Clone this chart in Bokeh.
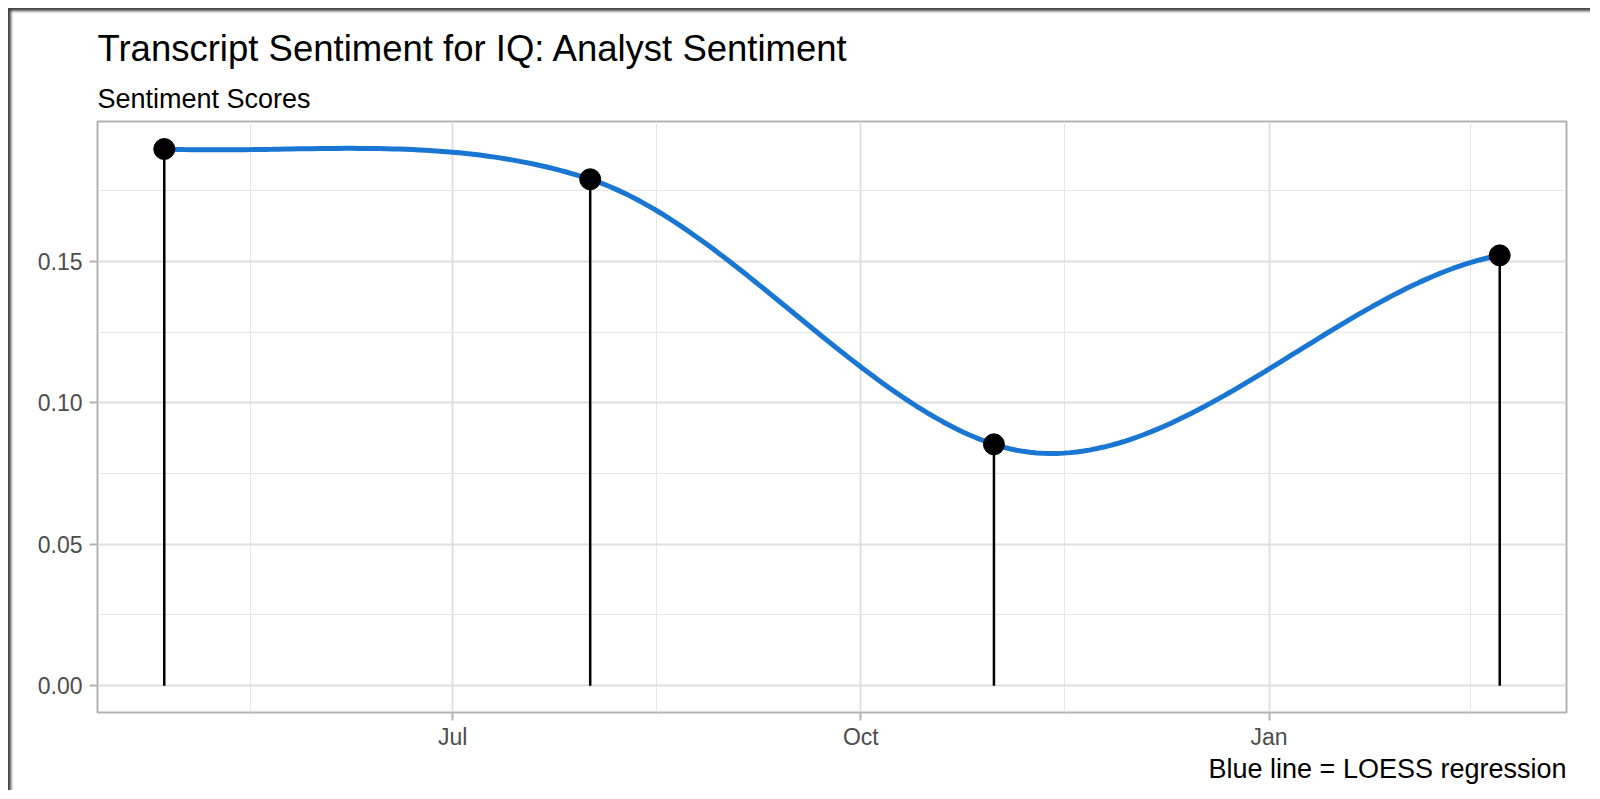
import numpy as np
from bokeh.plotting import figure
from bokeh.models import (ColumnDataSource, FixedTicker, DatetimeTickFormatter,
                          PrintfTickFormatter, Range1d, Title)
from bokeh.embed import file_html
from bokeh.resources import INLINE

# ---------------- data ----------------
dates = ["2023-04-27", "2023-08-01", "2023-10-31", "2024-02-22"]
scores = [0.1897, 0.1790, 0.0853, 0.1521]
x_tick_dates = ["2023-07-01", "2023-10-01", "2024-01-01"]
x_tick_labels = ["Jul", "Oct", "Jan"]
quarter_bounds = ["2023-04-01", "2023-07-01", "2023-10-01", "2024-01-01", "2024-04-01"]
y_ticks = [0.0, 0.05, 0.10, 0.15]
y_minor = [0.025, 0.075, 0.125, 0.175]
title_text = "Transcript Sentiment for IQ: Analyst Sentiment"
subtitle_text = "Sentiment Scores"
caption_text = "Blue line = LOESS regression"

# ---------------- LOESS (local quadratic, tricube, span 0.75) ----------------
DAY = 86400000.0
xt = np.array(dates, dtype="datetime64[ms]").astype(np.int64).astype(float)
yv = np.array(scores, float)
xd = (xt - xt[0]) / DAY
n = len(xd)
span = 0.75


def local_fit(x0):
    d = np.abs(xd - x0)
    order = np.argsort(d, kind="stable")
    q = int(np.floor(span * n))
    idx = order[:q]
    rho = d[order[q - 1]]
    w = np.clip(1 - (d[idx] / rho) ** 3, 0, None) ** 3
    s = np.sqrt(w)
    dx = xd[idx] - x0
    X = np.column_stack([np.ones(q), dx, dx ** 2]) * s[:, None]
    norms = np.linalg.norm(X, axis=0)
    norms[norms == 0] = 1
    beta = np.linalg.pinv(X / norms) @ (s * yv[idx]) / norms
    return beta[0], beta[1]


vals, slopes = zip(*[local_fit(v) for v in xd])
grid = np.linspace(xd[0], xd[-1], 200)
fit = []
for g in grid:
    i = min(np.searchsorted(xd, g, side="right") - 1, n - 2)
    L = xd[i + 1] - xd[i]
    t = (g - xd[i]) / L
    h00 = (1 + 2 * t) * (1 - t) ** 2
    h10 = t * (1 - t) ** 2
    h01 = t * t * (3 - 2 * t)
    h11 = t * t * (t - 1)
    fit.append(h00 * vals[i] + h01 * vals[i + 1] + L * (h10 * slopes[i] + h11 * slopes[i + 1]))
fit = np.array(fit)
grid_ms = xt[0] + grid * DAY

# ---------------- figure ----------------
xr = xt[-1] - xt[0]
ymax = max(yv.max(), fit.max())
p = figure(width=1582, height=782, x_axis_type="datetime",
           x_range=Range1d(xt[0] - 0.05 * xr, xt[-1] + 0.05 * xr),
           y_range=Range1d(-0.05 * ymax, 1.05 * ymax),
           output_backend="svg", toolbar_location=None,
           min_border_left=89, min_border_right=24, min_border_top=113, min_border_bottom=78)
p.margin = (8, 0, 0, 8)
p.styles = {"box-shadow": "inset 4px 4px 3px -1px rgba(45,45,45,0.9)"}
p.border_fill_color = None
p.background_fill_color = "white"
p.outline_line_color = "#B3B3B3"
p.outline_line_width = 2

src = ColumnDataSource(dict(x=xt, y=yv, y0=np.zeros(n)))
p.segment(x0="x", y0="y0", x1="x", y1="y", source=src, line_color="black", line_width=2.5)
p.line(grid_ms, fit, line_color="#1976D2", line_width=5)
p.scatter(x="x", y="y", source=src, size=21, color="black")

# ticks and grid
tick_ms = np.array(x_tick_dates, dtype="datetime64[ms]").astype(np.int64).astype(float)
qb = np.array(quarter_bounds, dtype="datetime64[ms]").astype(np.int64).astype(float)
minor_ms = (qb[:-1] + qb[1:]) / 2
xticker = FixedTicker(ticks=list(tick_ms), minor_ticks=list(minor_ms))
p.xaxis.ticker = xticker
p.xgrid.ticker = xticker
p.xaxis.major_label_overrides = {float(t): lab for t, lab in zip(tick_ms, x_tick_labels)}
p.xaxis.formatter = DatetimeTickFormatter(months="%b", days="%b", years="%b")
yticker = FixedTicker(ticks=y_ticks, minor_ticks=y_minor)
p.yaxis.ticker = yticker
p.ygrid.ticker = yticker
p.yaxis.formatter = PrintfTickFormatter(format="%.2f")

for g in (p.xgrid, p.ygrid):
    g.grid_line_color = "#DEDEDE"
    g.grid_line_width = 1.8
    g.minor_grid_line_color = "#E6E6E6"
    g.minor_grid_line_width = 1

for ax in (p.xaxis, p.yaxis):
    ax.axis_line_color = None
    ax.major_tick_line_color = "#B3B3B3"
    ax.major_tick_line_width = 2
    ax.major_tick_out = 8
    ax.major_tick_in = 0
    ax.minor_tick_line_color = None
    ax.major_label_text_font = "Liberation Sans"
    ax.major_label_text_font_size = "23px"
    ax.major_label_text_color = "#4D4D4D"
p.yaxis.major_label_standoff = 7
p.xaxis.major_label_standoff = 3

p.add_layout(Title(text=subtitle_text, text_font="Liberation Sans", text_font_size="27px",
                   text_font_style="normal", text_color="black", align="left", standoff=16), "above")
p.add_layout(Title(text=title_text, text_font="Liberation Sans", text_font_size="36.5px",
                   text_font_style="normal", text_color="black", align="left", standoff=10), "above")
p.add_layout(Title(text=caption_text, text_font="Liberation Sans", text_font_size="27px",
                   text_font_style="normal", text_color="black", align="right", standoff=-1), "below")

open("out.html", "w").write(file_html(p, INLINE))
